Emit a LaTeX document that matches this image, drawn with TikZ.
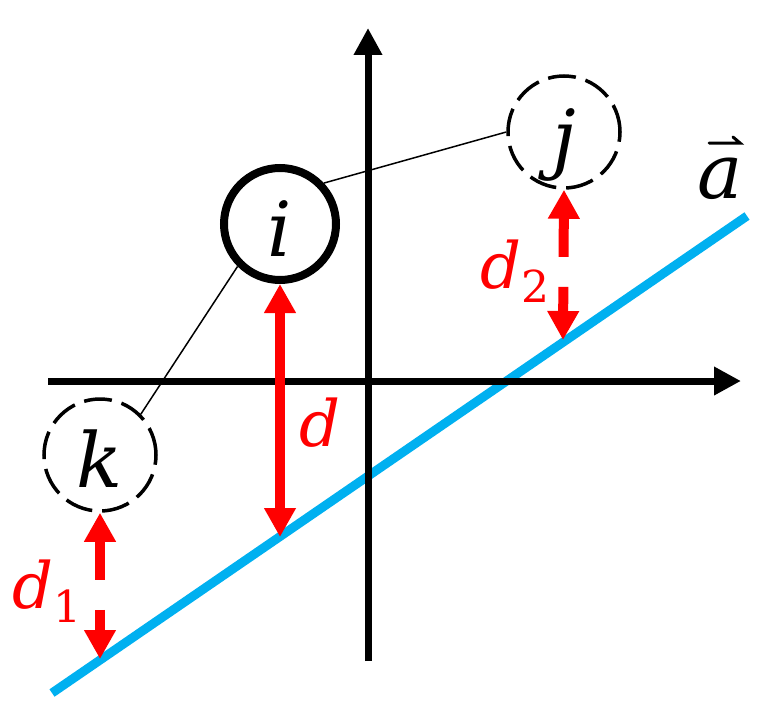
\documentclass[tikz,border=0pt]{standalone}
\usepackage{fontspec}
\setmainfont{DejaVu Serif}
\usetikzlibrary{arrows.meta}
\definecolor{lineblue}{RGB}{0,176,240}
\newcommand{\subidx}[1]{\raisebox{-14pt}{\upshape\fontsize{44}{50}\selectfont #1}}
\begin{document}
\begin{tikzpicture}[x=1pt,y=-1pt,
  axis/.style={line width=7pt,-{Triangle[length=27pt,width=27pt]}},
  vecline/.style={line width=9pt,lineblue},
  pt/.style={circle,minimum size=112pt,inner sep=0pt,text height=64pt,text depth=0pt,font=\fontsize{76}{90}\selectfont\itshape},
  mainpt/.style={pt,draw,line width=8pt},
  otherpt/.style={pt,draw,line width=3.5pt,dash pattern=on 28pt off 10pt},
  link/.style={line width=1.5pt},
  dist/.style={red,line width=10pt,{Triangle[length=29pt,width=30pt]}-{Triangle[length=29pt,width=30pt]}},
  distdash/.style={dist,dash pattern=on 40pt off 30pt},
  dlabel/.style={red,inner sep=0pt,font=\fontsize{64}{80}\selectfont\itshape},
  accent/.style={line width=3pt,line cap=round,line join=miter}
]
\useasboundingbox (0,0) rectangle (770,701);
\coordinate (a0) at (52,693);
\coordinate (a1) at (747,216);
\draw[vecline] (a0) -- (a1);
\coordinate (xs) at (48,381);
\coordinate (xe) at (741,381);
\coordinate (ys) at (368,661);
\coordinate (ye) at (368,28);
\draw[axis] (xs) -- (xe);
\draw[axis] (ys) -- (ye);
\node[mainpt] (i) at (280,224) {i};
\node[otherpt] (j) at (564,132) {j};
\node[otherpt] (k) at (100,455) {k};
\draw[link] (i.43) -- (j.180);
\draw[link] (i.225) -- (k.45);
\coordinate (fi) at (280,537);
\coordinate (fk) at (100,659);
\coordinate (fj) at (563,340);
\draw[dist] (i.south) -- (fi);
\draw[distdash] (k.south) -- (fk);
\draw[distdash] (j.south) -- (fj);
\node[dlabel] (ld) at (320,423) {d};
\node[dlabel,anchor=base west] (ld1) at (12,608) {d\subidx{1}};
\node[dlabel,anchor=base west] (ld2) at (480,288) {d\subidx{2}};
\node[inner sep=0pt,anchor=base west,font=\fontsize{76}{90}\selectfont\itshape] (la) at (697,198) {a};
\draw[accent] (709,143) -- (740,143) -- (733,137);
\end{tikzpicture}
\end{document}
